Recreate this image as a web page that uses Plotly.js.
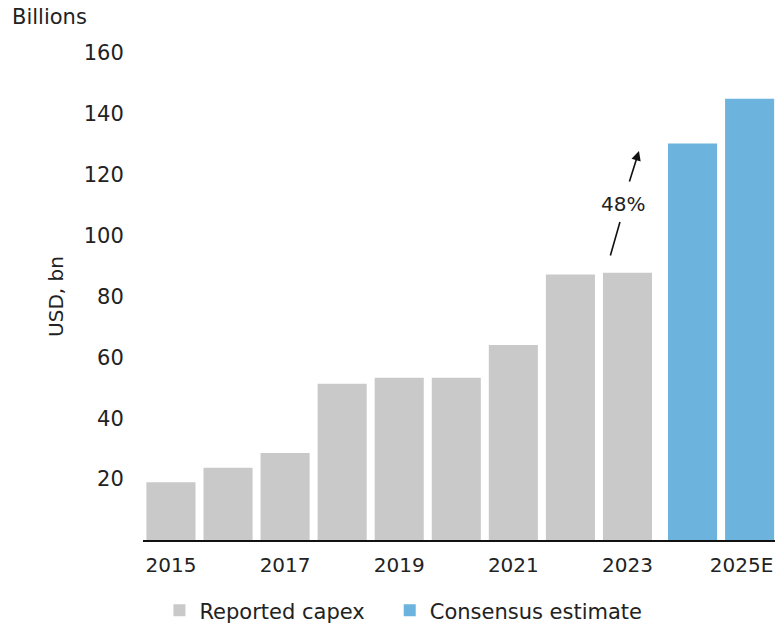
<!DOCTYPE html>
<html>
<head>
<meta charset="utf-8">
<script src="https://cdn.plot.ly/plotly-3.0.1.min.js"></script>
<style>html,body{margin:0;padding:0;background:#fff;}#chart{width:784px;height:625px;}</style>
</head>
<body>
<div id="chart"></div>
<script>
const years = ["2015","2016","2017","2018","2019","2020","2021","2022","2023","2024E","2025E"];
const reportedYears = ["2015","2016","2017","2018","2019","2020","2021","2022","2023"];
const reportedCapex = [19, 23.7, 28.6, 51.3, 53.3, 53.3, 64.1, 87.2, 87.8];
const estimateYears = ["2024E","2025E"];
const consensusEstimate = [130.3, 145];
const tickLabels = ["2015","2017","2019","2021","2023","2025E"];
const yTicks = [20,40,60,80,100,120,140,160];

const font = "DejaVu Sans, sans-serif";
const txt = "#222";
const traces = [
  {type:"bar", name:"Reported capex\u00a0\u00a0\u00a0", x:reportedYears, y:reportedCapex,
   marker:{color:"#c9c9c9"}, width:0.86, offset:-0.43, hoverinfo:"x+y"},
  {type:"bar", name:"Consensus estimate", x:estimateYears, y:consensusEstimate,
   marker:{color:"#6cb4dd"}, width:0.86, offset:-0.29, hoverinfo:"x+y"}
];
const layout = {
  width:784, height:625,
  margin:{l:143, r:9, t:53, b:85, autoexpand:false},
  paper_bgcolor:"#fff", plot_bgcolor:"#fff",
  font:{family:font, size:21, color:txt},
  showlegend:true,
  legend:{orientation:"h", x:0.026, xanchor:"left", y:-0.103, yanchor:"top",
          font:{family:font, size:21, color:txt}, itemwidth:30},
  xaxis:{type:"category", categoryorder:"array", categoryarray:years,
         range:[-0.49, 10.585], tickvals:tickLabels, ticktext:tickLabels,
         showline:true, linecolor:"#111", linewidth:2,
         ticks:"outside", ticklen:6, tickcolor:"rgba(0,0,0,0)", showgrid:false,
         zeroline:false, tickfont:{family:font, size:20, color:txt}},
  yaxis:{range:[0,160], tickvals:yTicks, ticktext:yTicks.map(String), showgrid:false,
         zeroline:false, showline:false, ticks:"outside", ticklen:14, tickcolor:"rgba(0,0,0,0)",
         tickfont:{family:font, size:21, color:txt},
         title:{text:"USD, bn", standoff:14, font:{family:font, size:20, color:txt}}},
  annotations:[
    {xref:"paper", yref:"paper", x:-0.211, y:1.074, xanchor:"left", yanchor:"middle",
     text:"Billions", showarrow:false, font:{family:font, size:21, color:txt}},
    {x:7.921, y:110.4, xref:"x", yref:"y", text:"48%", showarrow:false,
     font:{family:font, size:20, color:txt}},
    {x:7.868, y:104.5, ax:7.693, ay:93.0, xref:"x", yref:"y", axref:"x", ayref:"y",
     text:"", showarrow:true, arrowhead:0, arrowwidth:1.6, arrowcolor:"#111"},
    {x:8.201, y:127.8, ax:8.026, ay:117.3, xref:"x", yref:"y", axref:"x", ayref:"y",
     text:"", showarrow:true, arrowhead:2, arrowsize:1.2, arrowwidth:1.6, arrowcolor:"#111"}
  ]
};
Plotly.newPlot("chart", traces, layout, {staticPlot:true, displayModeBar:false});
</script>
</body>
</html>
